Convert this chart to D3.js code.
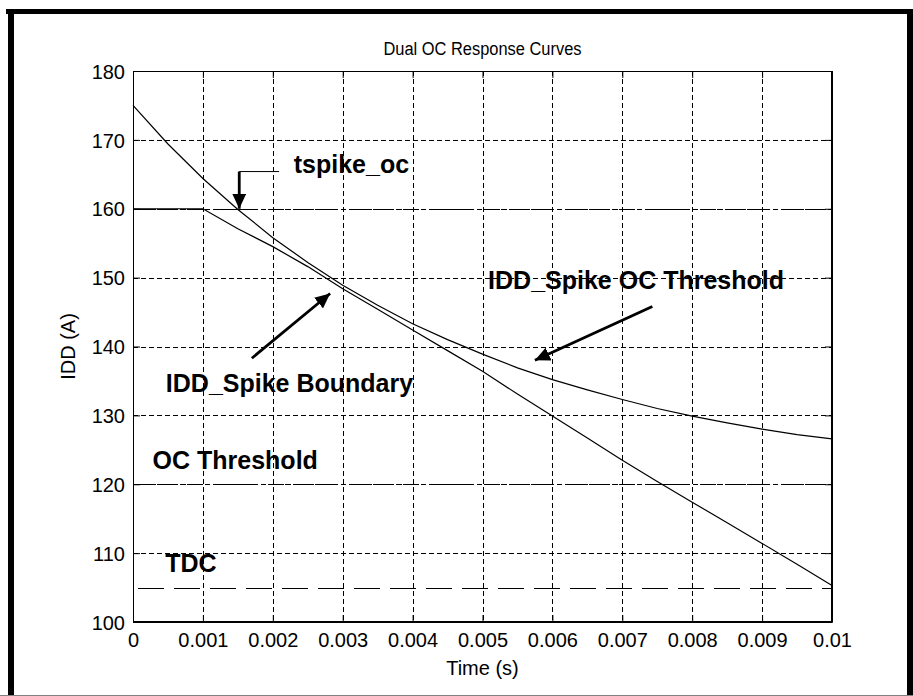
<!DOCTYPE html>
<html>
<head>
<meta charset="utf-8">
<script src="https://cdn.jsdelivr.net/npm/d3@7"></script>
<style>
  body { margin: 0; background: #fff; }
  svg text { font-family: "Liberation Sans", Arial, sans-serif; }
</style>
</head>
<body>
<div id="chart"></div>
<script>
////////////////////////////////////////////////////////////////////////
// data

let timeTicks = [0, 0.001, 0.002, 0.003, 0.004, 0.005, 0.006, 0.007, 0.008, 0.009, 0.01];
let timeTickLabels = ["0", "0.001", "0.002", "0.003", "0.004", "0.005", "0.006", "0.007", "0.008", "0.009", "0.01"];
let iddTicks = [100, 110, 120, 130, 140, 150, 160, 170, 180];

// IDD_Spike OC Threshold curve
let spikeThreshT = [0, 0.0005, 0.001, 0.0015, 0.002, 0.0025, 0.003, 0.0035, 0.004, 0.0045, 0.005,
                    0.0055, 0.006, 0.0065, 0.007, 0.0075, 0.008, 0.0085, 0.009, 0.0095, 0.01];
let spikeThreshIdd = [175, 169.4, 164.4, 159.9, 155.8, 152.2, 148.9, 146.0, 143.3, 141.0, 138.9,
                      136.9, 135.2, 133.7, 132.3, 131.0, 129.9, 128.9, 128.0, 127.2, 126.6];

// IDD_Spike Boundary curve
let boundaryT = [0, 0.001, 0.0015, 0.002, 0.0025, 0.003, 0.0035, 0.004, 0.0045, 0.005,
                 0.0055, 0.006, 0.0065, 0.007, 0.0075, 0.008, 0.0085, 0.009, 0.0095, 0.01];
let boundaryIdd = [160, 160, 157.1, 154.5, 151.6, 148.4, 145.4, 142.4, 139.4, 136.4,
                   133.1, 129.9, 126.7, 123.5, 120.4, 117.4, 114.4, 111.4, 108.4, 105.3];

// horizontal levels
let spikeOcLevel = 160;
let ocThreshold = 120;
let tdcLevel = 105;

// annotations, in data units
let labels = [
  { text: "tspike_oc", t: 0.0023, idd: 165.2 },
  { text: "IDD_Spike Boundary", t: 0.00047, idd: 133.4 },
  { text: "IDD_Spike OC Threshold", t: 0.00508, idd: 148.3 },
  { text: "OC Threshold", t: 0.00028, idd: 122.2 },
  { text: "TDC", t: 0.00046, idd: 107.3 }
];
let arrows = [
  { from: [0.00743, 145.8], to: [0.00575, 138.0] },
  { from: [0.0017, 138.3], to: [0.00282, 147.7] }
];
let tspikeArrow = { start: [0.00209, 165.4], corner: [0.00152, 165.4], tip: [0.00152, 160.0] };

////////////////////////////////////////////////////////////////////////

let width = 913;
let height = 696;
let pLeft = 133, pRight = 832, pTop = 71, pBottom = 622;

let svg = d3.select("#chart")
  .append("svg")
  .attr("width", width).attr("height", height);

// frame round the figure
svg.append("rect").attr("x", 6).attr("y", 9).attr("width", 907).attr("height", 5).attr("fill", "#000");
svg.append("rect").attr("x", 8).attr("y", 9).attr("width", 6).attr("height", 687).attr("fill", "#000");
svg.append("rect").attr("x", 907).attr("y", 9).attr("width", 6).attr("height", 687).attr("fill", "#000");
svg.append("line").attr("x1", 0).attr("x2", width).attr("y1", 695.5).attr("y2", 695.5)
  .attr("stroke", "#808080").attr("stroke-width", 1);

let xScale = d3.scaleLinear().domain([0, 0.01]).range([pLeft, pRight]);
let yScale = d3.scaleLinear().domain([100, 180]).range([pBottom, pTop]);

// grid
let grid = svg.append("g").attr("shape-rendering", "crispEdges")
  .attr("stroke", "#000").attr("stroke-width", 1).attr("stroke-dasharray", "5,3");
grid.selectAll(".vg").data(timeTicks.slice(1, -1)).enter()
  .append("line")
  .attr("x1", d => Math.round(xScale(d)) + 0.5).attr("x2", d => Math.round(xScale(d)) + 0.5)
  .attr("y1", pTop).attr("y2", pBottom);
grid.selectAll(".hg").data(iddTicks.slice(1, -1)).enter()
  .append("line")
  .attr("x1", pLeft).attr("x2", pRight)
  .attr("y1", d => Math.round(yScale(d)) + 0.5).attr("y2", d => Math.round(yScale(d)) + 0.5);

// axes, ticks inward on all four sides
let xAxis = svg.append("g").attr("transform", "translate(0," + pBottom + ")")
  .call(d3.axisBottom(xScale).tickValues(timeTicks).tickSizeInner(-7).tickSizeOuter(0)
    .tickPadding(11).tickFormat((d, i) => timeTickLabels[i]));
let xAxisTop = svg.append("g").attr("transform", "translate(0," + pTop + ")")
  .call(d3.axisTop(xScale).tickValues(timeTicks).tickSizeInner(-7).tickSizeOuter(0).tickFormat(""));
let yAxis = svg.append("g").attr("transform", "translate(" + pLeft + ",0)")
  .call(d3.axisLeft(yScale).tickValues(iddTicks).tickSizeInner(-7).tickSizeOuter(0).tickPadding(8));
let yAxisRight = svg.append("g").attr("transform", "translate(" + pRight + ",0)")
  .call(d3.axisRight(yScale).tickValues(iddTicks).tickSizeInner(-7).tickSizeOuter(0).tickFormat(""));

svg.selectAll(".domain").attr("stroke", "#000");
svg.selectAll(".tick line").attr("stroke", "#000");
svg.selectAll(".tick text").attr("font-size", 20).attr("fill", "#000")
  .attr("font-family", "'Liberation Sans', Arial, sans-serif");
yAxis.selectAll(".tick text").attr("dy", "0.36em");
xAxis.selectAll(".tick text").attr("dy", "0.72em");

// box
svg.append("rect").attr("x", pLeft + 0.5).attr("y", pTop + 0.5)
  .attr("width", pRight - pLeft - 1).attr("height", pBottom - pTop - 1)
  .attr("fill", "none").attr("stroke", "#000").attr("stroke-width", 1);

// level lines
let levels = svg.append("g").attr("stroke", "#000").attr("stroke-width", 1).attr("fill", "none")
  .attr("shape-rendering", "crispEdges");
levels.append("line")
  .attr("x1", xScale(0)).attr("x2", xScale(0.01))
  .attr("y1", Math.round(yScale(spikeOcLevel)) + 0.5).attr("y2", Math.round(yScale(spikeOcLevel)) + 0.5)
  .attr("stroke-dasharray", "16,4,3,4");
levels.append("line")
  .attr("x1", xScale(0)).attr("x2", xScale(0.01))
  .attr("y1", Math.round(yScale(ocThreshold)) + 0.5).attr("y2", Math.round(yScale(ocThreshold)) + 0.5)
  .attr("stroke-dasharray", "16,4,3,4");
levels.append("line")
  .attr("x1", xScale(0) + 5).attr("x2", xScale(0.01))
  .attr("y1", Math.round(yScale(tdcLevel)) + 0.5).attr("y2", Math.round(yScale(tdcLevel)) + 0.5)
  .attr("stroke-dasharray", "26,10");

// curves
let line = d3.line().x(d => xScale(d[0])).y(d => yScale(d[1]));
svg.append("path")
  .datum(spikeThreshT.map((t, i) => [t, spikeThreshIdd[i]]))
  .attr("d", line).attr("fill", "none").attr("stroke", "#000").attr("stroke-width", 1.2);
svg.append("path")
  .datum(boundaryT.map((t, i) => [t, boundaryIdd[i]]))
  .attr("d", line).attr("fill", "none").attr("stroke", "#000").attr("stroke-width", 1.2);

// titles
svg.append("text").text("Dual OC Response Curves")
  .attr("x", (pLeft + pRight) / 2).attr("y", 55)
  .attr("text-anchor", "middle").attr("font-size", 18)
  .attr("textLength", 198).attr("lengthAdjust", "spacingAndGlyphs");
svg.append("text").text("Time (s)")
  .attr("x", (pLeft + pRight) / 2).attr("y", 675)
  .attr("text-anchor", "middle").attr("font-size", 20);
svg.append("text").text("IDD (A)")
  .attr("transform", "translate(75," + (pTop + pBottom) / 2 + ")rotate(-90)")
  .attr("text-anchor", "middle").attr("font-size", 20);

// annotations
svg.append("defs").append("marker")
  .attr("id", "head")
  .attr("markerUnits", "userSpaceOnUse")
  .attr("markerWidth", 16).attr("markerHeight", 14)
  .attr("refX", 15).attr("refY", 7)
  .attr("orient", "auto")
  .append("path").attr("d", "M0,0L15,7L0,14Z").attr("fill", "#000");

svg.selectAll(".ann").data(labels).enter()
  .append("text")
  .attr("x", d => xScale(d.t)).attr("y", d => yScale(d.idd))
  .attr("font-size", 25).attr("font-weight", "bold")
  .text(d => d.text);

svg.selectAll(".arr").data(arrows).enter()
  .append("line")
  .attr("x1", d => xScale(d.from[0])).attr("y1", d => yScale(d.from[1]))
  .attr("x2", d => xScale(d.to[0])).attr("y2", d => yScale(d.to[1]))
  .attr("stroke", "#000").attr("stroke-width", 2.8)
  .attr("marker-end", "url(#head)");

svg.append("line")
  .attr("x1", xScale(tspikeArrow.start[0])).attr("y1", yScale(tspikeArrow.start[1]))
  .attr("x2", xScale(tspikeArrow.corner[0])).attr("y2", yScale(tspikeArrow.corner[1]))
  .attr("stroke", "#000").attr("stroke-width", 1);
svg.append("line")
  .attr("x1", xScale(tspikeArrow.corner[0])).attr("y1", yScale(tspikeArrow.corner[1]))
  .attr("x2", xScale(tspikeArrow.tip[0])).attr("y2", yScale(tspikeArrow.tip[1]))
  .attr("stroke", "#000").attr("stroke-width", 2.8)
  .attr("marker-end", "url(#head)");
</script>
</body>
</html>
